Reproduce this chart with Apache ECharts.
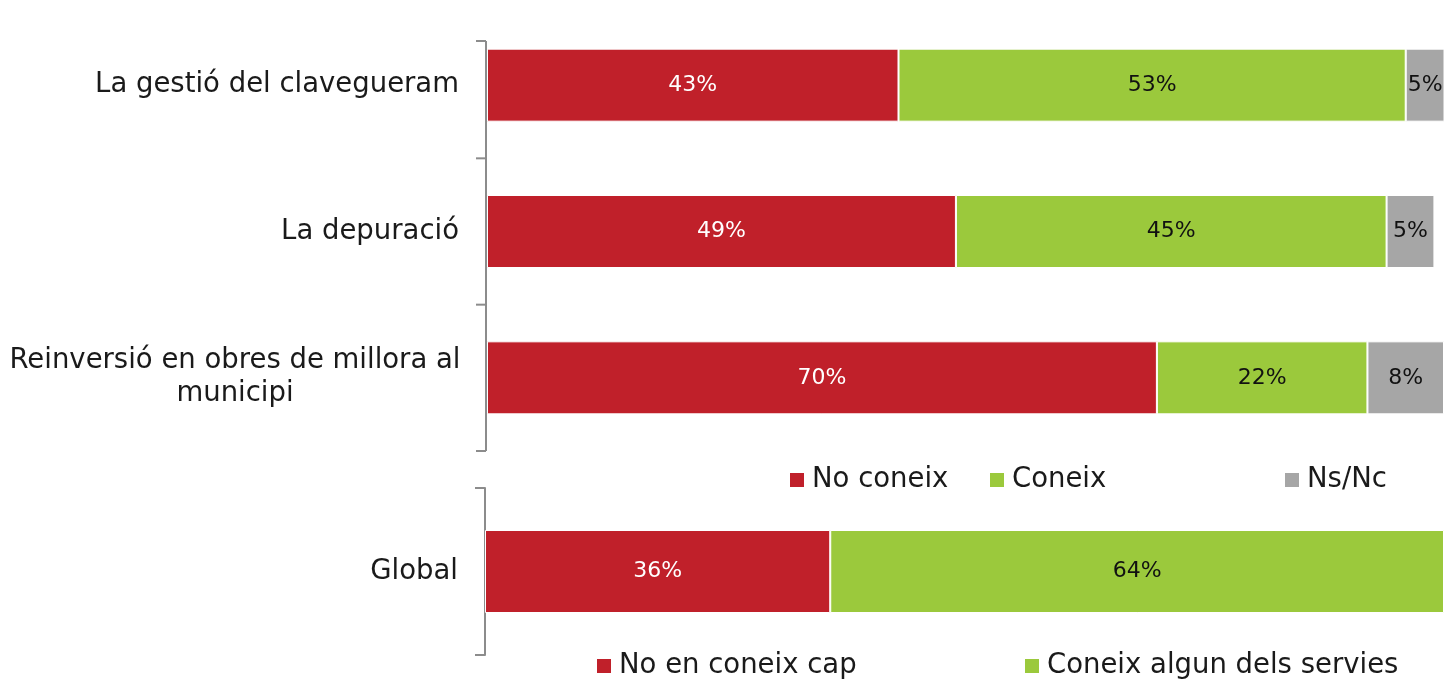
<!DOCTYPE html>
<html>
<head>
<meta charset="utf-8">
<script src="https://cdn.jsdelivr.net/npm/echarts@6/dist/echarts.min.js"></script>
<style>
  html, body { margin: 0; padding: 0; background: #ffffff; }
  #chart { width: 1444px; height: 679px; }
</style>
</head>
<body>
<div id="chart"></div>
<script>
// Knowledge of the water services (percentages)
const categories = ['La gestió del clavegueram', 'La depuració', 'Reinversió en obres de millora al\nmunicipi'];
const noConeix = [43, 49, 70];
const coneix = [53, 45, 22];
const nsNc = [5, 5, 8];

const globalCategory = ['Global'];
const noEnConeixCap = [36];
const coneixAlgun = [64];

const FONT = '"DejaVu Sans", sans-serif';
const RED = '#c0202a';
const GREEN = '#9bc93c';
const GREY = '#a6a6a6';
const AXIS_GREY = '#8c8c8c';

// layout of the two panels
const TOP_GRID = { left: 487, top: 12, width: 965, height: 439 };
const BOTTOM_GRID = { left: 485, top: 488, width: 965, height: 167 };

const chart = echarts.init(document.getElementById('chart'), null, { renderer: 'canvas' });

const pct = (p) => p.value + '%';
const barLabel = (color) => ({
  show: true, position: 'inside', formatter: pct,
  fontFamily: FONT, fontSize: 22, color: color
});
const itemStyle = (color) => ({ color: color, borderColor: '#ffffff', borderWidth: 1 });

const catLabel = {
  fontFamily: FONT, fontSize: 27.5, color: '#1a1a1a', margin: 28,
  formatter: (v) => v.indexOf('\n') >= 0
    ? v.split('\n').map((l) => '{c|' + l + '}').join('\n')
    : v,
  rich: { c: { fontFamily: FONT, fontSize: 27.5, color: '#1a1a1a', width: 448, align: 'center', lineHeight: 33 } }
};

const legendBase = {
  orient: 'horizontal', padding: 0, itemWidth: 16, itemHeight: 16, itemGap: 0,
  icon: 'rect', selectedMode: false,
  textStyle: { fontFamily: FONT, fontSize: 27.5, color: '#1a1a1a', padding: [0, 0, 0, 2] }
};

const option = {
  animation: false,
  backgroundColor: '#ffffff',
  grid: [
    Object.assign({ containLabel: false }, TOP_GRID),
    Object.assign({ containLabel: false }, BOTTOM_GRID)
  ],
  xAxis: [
    { type: 'value', gridIndex: 0, min: 0, max: 100, show: false },
    { type: 'value', gridIndex: 1, min: 0, max: 100, show: false }
  ],
  yAxis: [
    {
      type: 'category', gridIndex: 0, inverse: true, data: categories,
      axisLine: { show: false }, axisTick: { show: false },
      axisLabel: catLabel
    },
    {
      type: 'category', gridIndex: 1, data: globalCategory,
      axisLine: { show: true, lineStyle: { color: AXIS_GREY, width: 2 } },
      axisTick: { show: true, length: 10, lineStyle: { color: AXIS_GREY, width: 2 } },
      axisLabel: Object.assign({}, catLabel, { margin: 27 })
    }
  ],
  legend: [
    Object.assign({}, legendBase, { data: ['No coneix'], left: 788, top: 466 }),
    Object.assign({}, legendBase, { data: ['Coneix'], left: 988, top: 466 }),
    Object.assign({}, legendBase, { data: ['Ns/Nc'], left: 1283, top: 466 }),
    Object.assign({}, legendBase, { data: ['No en coneix cap'], left: 595, top: 652 }),
    Object.assign({}, legendBase, { data: ['Coneix algun dels servies'], left: 1023, top: 652 })
  ],
  series: [
    { name: 'No coneix', type: 'bar', stack: 'a', xAxisIndex: 0, yAxisIndex: 0, barWidth: 73,
      data: noConeix, itemStyle: itemStyle(RED), label: barLabel('#ffffff') },
    { name: 'Coneix', type: 'bar', stack: 'a', xAxisIndex: 0, yAxisIndex: 0, barWidth: 73,
      data: coneix, itemStyle: itemStyle(GREEN), label: barLabel('#111111') },
    { name: 'Ns/Nc', type: 'bar', stack: 'a', xAxisIndex: 0, yAxisIndex: 0, barWidth: 73,
      data: nsNc, itemStyle: itemStyle(GREY), label: barLabel('#111111') },
    { name: 'No en coneix cap', type: 'bar', stack: 'b', xAxisIndex: 1, yAxisIndex: 1, barWidth: 83,
      data: noEnConeixCap, itemStyle: itemStyle(RED), label: barLabel('#ffffff') },
    { name: 'Coneix algun dels servies', type: 'bar', stack: 'b', xAxisIndex: 1, yAxisIndex: 1, barWidth: 83,
      data: coneixAlgun, itemStyle: itemStyle(GREEN), label: barLabel('#111111') }
  ]
};

chart.setOption(option);

// Bracket of the upper panel: starts below the panel top, ticks at the category boundaries
const bracketTop = 41;
const bandH = TOP_GRID.height / categories.length;
const axisX = TOP_GRID.left - 1;
const tickYs = [bracketTop];
for (let i = 1; i <= categories.length; i++) tickYs.push(TOP_GRID.top + bandH * i);
const lineStyle = { stroke: AXIS_GREY, lineWidth: 2 };
const elements = [{
  type: 'line', silent: true,
  shape: { x1: axisX, y1: bracketTop, x2: axisX, y2: tickYs[tickYs.length - 1] },
  style: lineStyle
}];
tickYs.forEach((y) => elements.push({
  type: 'line', silent: true,
  shape: { x1: axisX - 10, y1: y, x2: axisX, y2: y },
  style: lineStyle
}));
chart.setOption({ graphic: { elements: elements } });
</script>
</body>
</html>
